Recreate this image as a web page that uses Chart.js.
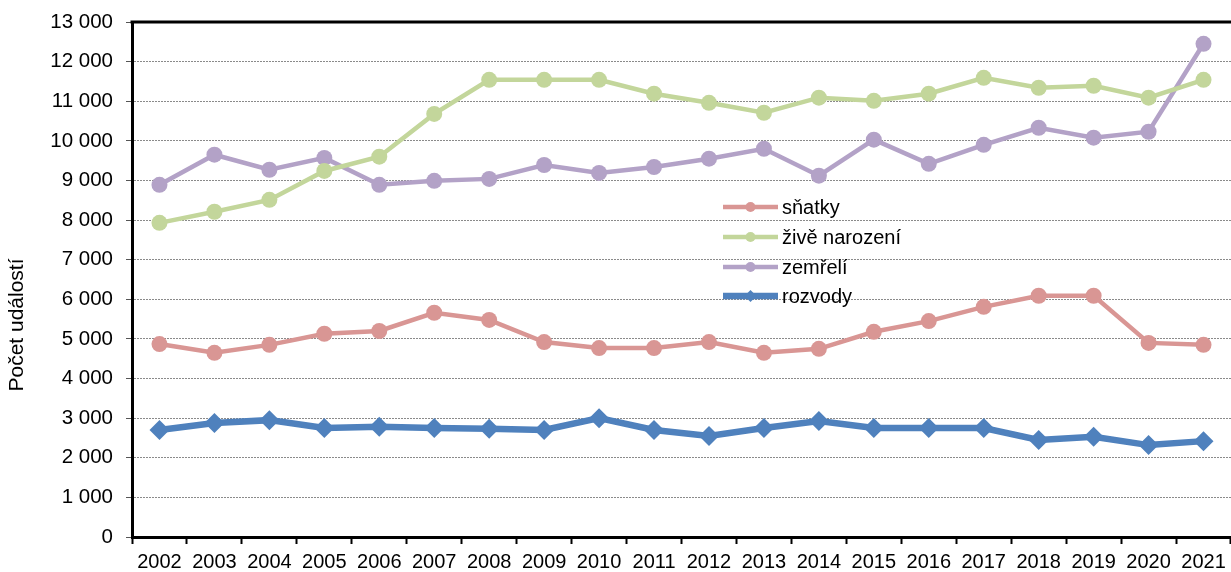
<!DOCTYPE html>
<html>
<head>
<meta charset="utf-8">
<script src="https://cdn.jsdelivr.net/npm/chart.js@4"></script>
<style>
  html, body { margin: 0; padding: 0; background: #fff; }
  #wrap { width: 1231px; height: 572px; }
</style>
</head>
<body>
<div id="wrap"><canvas id="chart" width="1231" height="572"></canvas></div>
<script>
// roky
const years = ['2002','2003','2004','2005','2006','2007','2008','2009','2010','2011',
               '2012','2013','2014','2015','2016','2017','2018','2019','2020','2021'];

// počty událostí
const snatky = [4870, 4650, 4850, 5130, 5200, 5660, 5480, 4920, 4770, 4770,
                4920, 4650, 4750, 5180, 5450, 5810, 6090, 6090, 4900, 4850];
const narozeni = [7930, 8210, 8510, 9240, 9600, 10680, 11540, 11540, 11540, 11190,
                  10960, 10710, 11090, 11010, 11190, 11590, 11340, 11390, 11090, 11540];
const zemreli = [8890, 9650, 9270, 9570, 8890, 8990, 9040, 9390, 9190, 9340,
                 9550, 9800, 9120, 10030, 9420, 9900, 10330, 10080, 10230, 12450];
const rozvody = [2700, 2880, 2950, 2750, 2780, 2750, 2730, 2700, 3000, 2700,
                 2550, 2750, 2930, 2750, 2750, 2750, 2450, 2530, 2320, 2420];

const seriesNames = ['sňatky', 'živě narození', 'zemřelí', 'rozvody'];
const yTitle = 'Počet událostí';

const FONT = 'Liberation Sans, Arial, sans-serif';

function fmt(v) {
    return String(v).replace(/\B(?=(\d{3})+(?!\d))/g, ' ');
}

// legenda uvnitř grafu, horní okraj rámu a popis osy y
const extras = {
    id: 'extras',
    afterDraw(chart) {
        const ctx = chart.ctx;
        const area = chart.chartArea;
        ctx.save();
        ctx.strokeStyle = '#000';
        ctx.lineWidth = 3;
        ctx.beginPath();
        ctx.moveTo(area.left - 1.5, area.top);
        ctx.lineTo(area.right, area.top);
        ctx.stroke();

        // popis osy y
        ctx.save();
        ctx.translate(17, 325);
        ctx.rotate(-Math.PI / 2);
        ctx.fillStyle = '#000';
        ctx.font = '21px ' + FONT;
        ctx.textAlign = 'center';
        ctx.textBaseline = 'middle';
        ctx.fillText(yTitle, 0, 0);
        ctx.restore();

        const x0 = 723, x1 = 778;
        const rows = [207, 237, 267, 296];
        chart.data.datasets.forEach((ds, i) => {
            const y = rows[i];
            ctx.strokeStyle = ds.borderColor;
            ctx.lineWidth = ds.borderWidth;
            ctx.beginPath();
            ctx.moveTo(x0, y);
            ctx.lineTo(x1, y);
            ctx.stroke();
            ctx.fillStyle = ds.borderColor;
            const cx = (x0 + x1) / 2;
            if (ds.pointStyle === 'rectRot') {
                ctx.beginPath();
                ctx.moveTo(cx, y - 6);
                ctx.lineTo(cx + 6, y);
                ctx.lineTo(cx, y + 6);
                ctx.lineTo(cx - 6, y);
                ctx.closePath();
                ctx.fill();
            } else {
                ctx.beginPath();
                ctx.arc(cx, y, 5, 0, Math.PI * 2);
                ctx.fill();
            }
            ctx.fillStyle = '#000';
            ctx.font = '20px ' + FONT;
            ctx.textBaseline = 'middle';
            ctx.fillText(ds.label, x1 + 4, y + 1);
        });
        ctx.restore();
    }
};

new Chart(document.getElementById('chart'), {
    type: 'line',
    data: {
        labels: years,
        datasets: [
            { label: seriesNames[0], data: snatky, borderColor: '#D99694', backgroundColor: '#D99694',
              borderWidth: 4.5, pointRadius: 8, pointStyle: 'circle', pointBorderWidth: 0 },
            { label: seriesNames[1], data: narozeni, borderColor: '#C3D69B', backgroundColor: '#C3D69B',
              borderWidth: 4.5, pointRadius: 8, pointStyle: 'circle', pointBorderWidth: 0 },
            { label: seriesNames[2], data: zemreli, borderColor: '#B3A2C7', backgroundColor: '#B3A2C7',
              borderWidth: 4.5, pointRadius: 8, pointStyle: 'circle', pointBorderWidth: 0 },
            { label: seriesNames[3], data: rozvody, borderColor: '#4F81BD', backgroundColor: '#4F81BD',
              borderWidth: 6.5, pointRadius: 10, pointStyle: 'rectRot', pointBorderWidth: 0 }
        ]
    },
    options: {
        responsive: false,
        animation: false,
        layout: { autoPadding: false, padding: { top: 22, right: 0, left: 0, bottom: 0 } },
        elements: { line: { tension: 0 } },
        plugins: { legend: { display: false }, tooltip: { enabled: false } },
        scales: {
            x: {
                offset: true,
                afterFit: s => { s.height = 35; s.paddingLeft = 0; s.paddingRight = 0; },
                grid: { offset: true, drawOnChartArea: false, tickLength: 7, tickColor: '#000', tickWidth: 2 },
                border: { color: '#000', width: 3 },
                ticks: { color: '#000', font: { family: FONT, size: 20 }, padding: 6, maxRotation: 0 }
            },
            y: {
                min: 0, max: 13000,
                afterFit: s => { s.width = 132; s.paddingTop = 0; s.paddingBottom = 0; },
                grid: { color: '#8a8a8a', lineWidth: 1, tickLength: 6, tickColor: '#555', tickWidth: 1 },
                border: { color: '#000', width: 3, dash: [2, 1] },
                ticks: { stepSize: 1000, color: '#000', font: { family: FONT, size: 20.5 }, padding: 13,
                         callback: v => fmt(v) }
            }
        }
    },
    plugins: [extras]
});
</script>
</body>
</html>
